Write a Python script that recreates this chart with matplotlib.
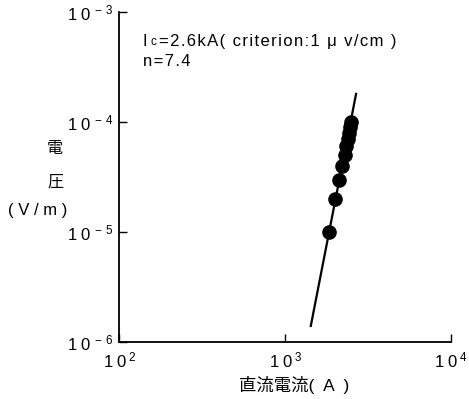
import matplotlib
matplotlib.use('Agg')
import matplotlib.pyplot as plt
import numpy as np

plt.rcParams['font.family'] = ['Liberation Sans', 'Noto Sans CJK JP', 'DejaVu Sans']

# measured points (current A, voltage V/m)
current = [1840, 2000, 2115, 2215, 2290, 2340, 2390, 2430, 2460, 2490]
voltage = [1e-5, 2e-5, 3e-5, 4e-5, 5e-5, 6e-5, 7e-5, 8e-5, 9e-5, 1e-4]

# fitted line end points
fit_current = [1430, 2680]
fit_voltage = [1.4e-6, 1.8e-4]

x_ticks = [1e2, 1e3, 1e4]
x_labels = ['2', '3', '4']
y_ticks = [1e-6, 1e-5, 1e-4, 1e-3]
y_labels = ['-6', '-5', '-4', '-3']


def spread(s):
    # the original uses wide letter spacing
    return '\u200a'.join(s)


fig = plt.figure(figsize=(4.69, 3.99), dpi=100)
ax = fig.add_axes([119/469, 1-342/399, 332/469, 330/399])

ax.plot(fit_current, fit_voltage, color='black', lw=1.6, zorder=2)
ax.plot(current, voltage, 'o', color='black', ms=9.5, zorder=3)

ax.set_xscale('log')
ax.set_yscale('log')
ax.set_xlim(1e2, 1e4)
ax.set_ylim(1e-6, 1e-3)
ax.minorticks_off()
ax.set_xticks(x_ticks)
ax.set_yticks(y_ticks)
ax.set_xticklabels([r'$\mathregular{1\;0^{\,%s}}$' % s for s in x_labels])
ax.set_yticklabels([r'$\mathregular{1\;0^{\,-\,%s}}$' % s[1:] for s in y_labels])
ax.tick_params(direction='in', length=6, width=1, labelsize=12, pad=4)
ax.tick_params(axis='x', pad=6)

for s in ['top', 'right']:
    ax.spines[s].set_visible(False)
for s in ['left', 'bottom']:
    ax.spines[s].set_linewidth(1.3)

ax.text(0.072, 0.91, 'I', transform=ax.transAxes, fontsize=12, va='center')
ax.text(0.094, 0.91, 'c', transform=ax.transAxes, fontsize=8.5, va='center')
ax.text(0.12, 0.91, spread('=2.6kA( criterion:1 μ v/cm )'), transform=ax.transAxes,
        fontsize=12, va='center')
ax.text(0.072, 0.85, spread('n=7.4'), transform=ax.transAxes, fontsize=12, va='center')

fig.text(55/469, 1-148/399, '電', fontsize=11.5, ha='center', va='center')
fig.text(55/469, 1-182/399, '圧', fontsize=11.5, ha='center', va='center')
fig.text(38/469, 1-211/399, '( V / m )', fontsize=12, ha='center', va='center')
fig.text(294/469, 1-385/399, '直流電流(\u2002A\u2002)', fontsize=12.5,
         ha='center', va='center')

fig.savefig('out.png', dpi=100)
